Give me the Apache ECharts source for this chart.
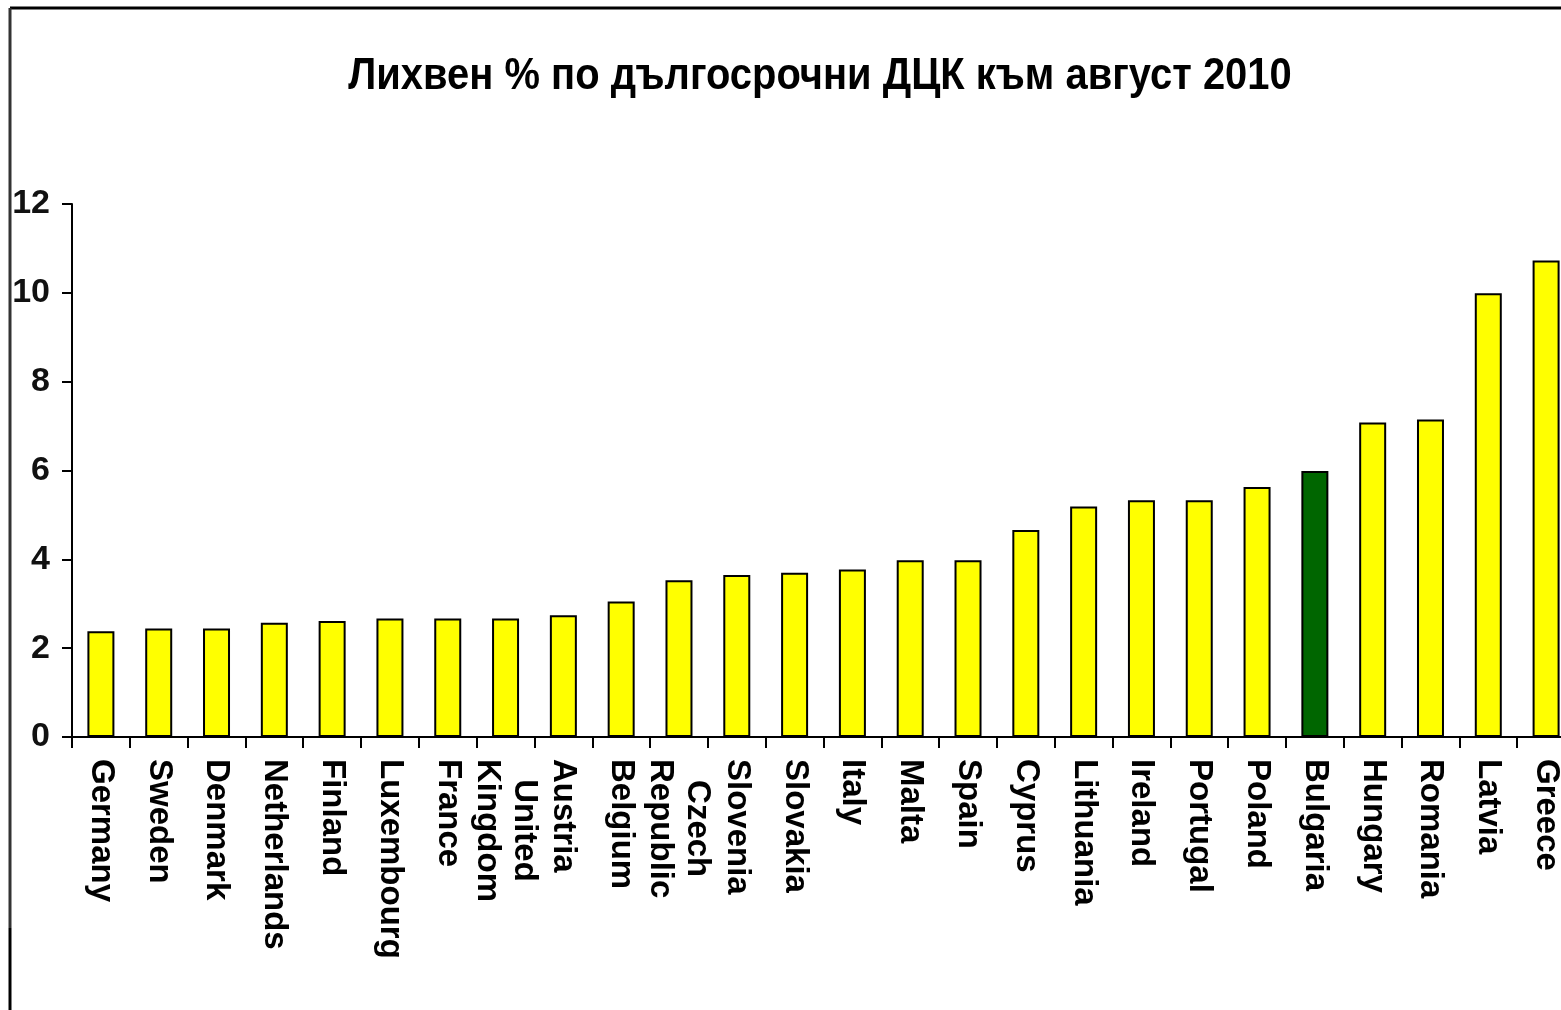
<!DOCTYPE html>
<html>
<head>
<meta charset="utf-8">
<script src="https://cdn.jsdelivr.net/npm/echarts@6/dist/echarts.min.js"></script>
<style>
html,body{margin:0;padding:0;background:#fff;}
#chart{width:1561px;height:1010px;}
</style>
</head>
<body>
<div id="chart"></div>
<script>
const titleText = 'Лихвен % по дългосрочни ДЦК към август 2010';
const categories = ['Germany','Sweden','Denmark','Netherlands','Finland','Luxembourg','France','United\nKingdom','Austria','Belgium','Czech\nRepublic','Slovenia','Slovakia','Italy','Malta','Spain','Cyprus','Lithuania','Ireland','Portugal','Poland','Bulgaria','Hungary','Romania','Latvia','Greece'];
const values = [2.38,2.44,2.44,2.57,2.61,2.67,2.67,2.67,2.74,3.05,3.53,3.65,3.70,3.77,3.98,3.98,4.66,5.19,5.33,5.33,5.63,5.99,7.08,7.15,9.99,10.73];
const highlight = 'Bulgaria';
const yTicks = [0,2,4,6,8,10,12];

const chart = echarts.init(document.getElementById('chart'));
chart.setOption({
  backgroundColor: '#fff',
  animation: false,
  grid: {left: 72, top: 204, width: 1503, height: 533, containLabel: false, outerBoundsMode: 'none'},
  xAxis: {
    type: 'category',
    data: categories,
    axisLine: {lineStyle: {color: '#000', width: 2}},
    axisTick: {show: true, alignWithLabel: false, length: 11, lineStyle: {color: '#000', width: 2}},
    axisLabel: {
      interval: 0, rotate: -90, margin: 22,
      formatter: v => v.split('\n').map(s => '{c|' + s + '}').join('\n'),
      rich: {c: {align: 'center', fontFamily: '"Liberation Sans", Arial, sans-serif', fontWeight: 'bold', fontSize: 33, color: '#000', lineHeight: 37}}
    }
  },
  yAxis: {
    type: 'value', min: 0, max: 12, interval: 2,
    splitLine: {show: false},
    axisLine: {show: true, lineStyle: {color: '#000', width: 2}},
    axisTick: {show: true, length: 10, lineStyle: {color: '#000', width: 2}},
    axisLabel: {
      margin: 22,
      formatter: v => yTicks.includes(v) ? String(v) : '',
      fontFamily: '"Liberation Sans", Arial, sans-serif', fontWeight: 'bold', fontSize: 34, color: '#111'
    }
  },
  series: [{
    type: 'bar',
    barWidth: 27,
    data: values.map((v, i) => ({
      value: v,
      itemStyle: {color: categories[i] === highlight ? '#006600' : '#FFFF00', borderColor: '#000', borderWidth: 2}
    }))
  }],
  graphic: [
    {type: 'text', x: 820, y: 54, scaleX: 0.887,
     style: {text: titleText, textAlign: 'center', textVerticalAlign: 'top', fill: '#000',
             font: 'bold 45px "Liberation Sans", Arial, sans-serif'}},
    {type: 'line', shape: {x1: 10, y1: 8, x2: 1561, y2: 8}, style: {stroke: '#000', lineWidth: 3}},
    {type: 'line', shape: {x1: 10, y1: 8, x2: 10, y2: 928}, style: {stroke: '#333', lineWidth: 3}},
    {type: 'line', shape: {x1: 10, y1: 928, x2: 10, y2: 1010}, style: {stroke: '#000', lineWidth: 3}}
  ]
});
</script>
</body>
</html>
